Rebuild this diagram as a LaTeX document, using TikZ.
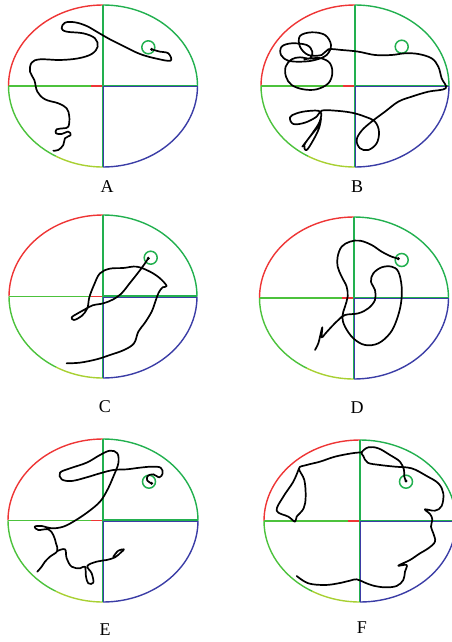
\documentclass[tikz,border=0pt]{standalone}
\usepackage{fontspec}
\setmainfont{Liberation Serif}
\definecolor{qred}{HTML}{EE3535}
\definecolor{qgreen}{HTML}{22B04F}
\definecolor{qlime}{HTML}{4CC23C}
\definecolor{qyellow}{HTML}{A8D032}
\definecolor{qblue}{HTML}{3B3DA6}
\tikzset{
  rim/.style={line width=1.4pt},
  track/.style={draw=black, line width=1.7pt, line join=round, line cap=round},
  target/.style={circle, draw=qgreen, line width=1.5pt, minimum size=13pt, inner sep=0pt},
  tag/.style={font=\fontsize{18}{18}\selectfont},
}
\begin{document}
\begin{tikzpicture}[x=1pt, y=-1pt]
  \useasboundingbox (0,0) rectangle (451,642);
  % six arenas, each cut into four coloured quarters
  \foreach \cx/\cy/\rx/\ry/\lx/\ly/\lab in {103/86/94.5/81/107/187/A, 355/86/94/81/357/187/B,
      103/296.5/94/81.5/105/407/C, 354/298/94.5/81/357/408/D,
      103/520.5/95/81.5/105/630/E, 360/521/96/81/362/628/F} {
    \draw[rim, qred] (\cx-\rx,\cy) arc[start angle=180, end angle=270, x radius=\rx, y radius=\ry];
    \draw[rim, qgreen] (\cx,\cy-\ry) arc[start angle=270, end angle=360, x radius=\rx, y radius=\ry];
    \draw[rim, qblue] (\cx+\rx,\cy) arc[start angle=0, end angle=90, x radius=\rx, y radius=\ry];
    \draw[rim, qyellow] (\cx,\cy+\ry) arc[start angle=90, end angle=120, x radius=\rx, y radius=\ry];
    \draw[rim, qlime] (\cx-\rx,\cy) arc[start angle=180, end angle=120, x radius=\rx, y radius=\ry];
    \draw[rim, qlime] (\cx-\rx,\cy) -- (\cx,\cy);
    \draw[rim, qred] (\cx-12,\cy) -- (\cx,\cy);
    \draw[rim, qblue] (\cx,\cy+0.7) -- (\cx+\rx,\cy+0.7);
    \draw[rim, qgreen] (\cx,\cy-0.7) -- (\cx+\rx,\cy-0.7);
    \draw[rim, qgreen] (\cx,\cy-\ry) -- (\cx,\cy);
    \draw[rim, qgreen] (\cx-0.7,\cy) -- (\cx-0.7,\cy+\ry);
    \draw[rim, qblue] (\cx+0.7,\cy) -- (\cx+0.7,\cy+\ry);
    \node[tag] (lab\lab) at (\lx,\ly) {\lab};
  }
  % goal rings
  \node[target] (tgtA) at (148.3,47.3) {};
  \node[target] (tgtB) at (401.7,46.7) {};
  \node[target] (tgtC) at (150.7,257.7) {};
  \node[target] (tgtD) at (401.7,260) {};
  \node[target] (tgtE) at (149,481.7) {};
  \node[target] (tgtF) at (406,481.7) {};
  % swim paths (traced at 3x, hence the scale)
  \begin{scope}[shift={(0pt,0pt)}, x=0.3333pt, y=-0.3333pt]
    \draw[track] plot[smooth, tension=0.6] coordinates {(455,148) (480,155) (505,160) (512,182) (470,176) (420,162) (370,138) (330,118) (295,98) (260,78) (225,67) (195,68) (185,85) (200,95) (250,100) (285,115) (293,140) (275,162) (235,175) (180,180) (120,178) (95,188) (90,215) (103,240) (112,275) (135,298) (175,310) (200,325) (208,350) (205,380) (190,385) (170,388) (168,400) (185,402) (205,395) (212,405) (195,415) (190,435) (175,450) (160,452)};
    \fill (455,148) circle[radius=5];
  \end{scope}
  \begin{scope}[shift={(225pt,0pt)}, x=0.3333pt, y=-0.3333pt]
    \draw[track] plot[smooth, tension=0.6] coordinates {(232,440) (255,410) (280,378) (288,355) (282,385) (265,420) (245,450) (238,435) (262,400) (284,365) (286,335) (250,333) (215,340) (195,352) (205,372) (240,368) (275,350) (290,332) (330,332) (380,338) (420,350) (450,365) (462,395) (455,430) (430,450) (405,445) (395,420) (410,392) (440,365) (480,335) (520,305) (560,290) (610,275) (662,265) (650,235) (640,200) (620,175) (580,162) (540,160) (500,165) (450,165) (400,155) (350,150) (310,148) (290,165) (250,165) (225,140) (225,108) (260,97) (300,105) (318,135) (305,165) (270,180) (230,185) (190,182) (168,165) (170,140) (200,130) (245,135) (262,155) (255,175) (225,172) (200,178) (182,200) (183,230) (200,255) (235,268) (275,268) (310,250) (322,220) (315,190) (290,175) (260,175) (238,178)};
  \end{scope}
  \begin{scope}[shift={(0pt,-210pt)}, x=0.3333pt, y=-0.3333pt]
    \draw[track] plot[smooth, tension=0.6] coordinates {(445,145) (435,160) (422,178) (405,200) (385,225) (365,250) (340,268) (310,280) (278,286) (255,298) (230,312) (215,322) (222,330) (245,318) (262,295) (268,262) (282,225) (300,190) (330,176) (370,174) (410,170) (450,185) (480,205) (500,228) (488,232) (476,248) (466,275) (455,305) (435,338) (415,365) (402,400) (372,420) (330,435) (290,448) (240,458) (200,460)};
    \fill (445,145) circle[radius=5];
  \end{scope}
  \begin{scope}[shift={(225pt,-210pt)}, x=0.3333pt, y=-0.3333pt]
    \draw[track] plot[smooth, tension=0.6] coordinates {(520,146) (500,140) (470,125) (440,105) (405,92) (375,95) (350,110) (338,140) (338,170) (350,200) (365,230) (368,260) (360,290) (352,320) (360,350) (385,385) (420,405) (460,400) (495,370) (515,330) (528,280) (530,230) (520,185) (500,170) (470,172) (445,190) (438,215) (450,240) (450,270) (430,295) (400,310) (360,315) (340,330) (318,352) (300,372) (290,382) (292,352) (285,380) (280,400) (270,420)};
    \fill (520,146) circle[radius=5];
  \end{scope}
  \begin{scope}[shift={(0pt,-420pt)}, x=0.3333pt, y=-0.3333pt]
    \draw[track] plot[smooth, tension=0.6] coordinates {(455,190) (442,182) (443,168) (460,163) (478,172) (488,160) (482,143) (455,140) (420,143) (380,148) (340,150) (300,160) (260,172) (215,183) (185,178) (180,158) (210,145) (260,128) (300,105) (330,92) (352,100) (355,130) (340,170) (322,210) (300,245) (265,275) (225,302) (190,320) (155,325) (125,318) (104,320) (115,330) (145,328) (160,345) (168,370) (172,393) (150,410) (135,425) (125,440) (112,455)};
    \draw[track] plot[smooth, tension=0.6] coordinates {(172,393) (195,388) (200,415) (215,440) (240,445) (255,440) (258,470) (265,490) (280,488) (275,460) (262,438) (290,425) (320,420) (345,412) (362,398) (372,388) (355,392) (340,410)};
    \fill (455,190) circle[radius=5];
  \end{scope}
  \begin{scope}[shift={(225pt,-420pt)}, x=0.3333pt, y=-0.3333pt]
    \draw[track] plot[smooth, tension=0.6] coordinates {(215,468) (250,490) (300,495) (340,490) (375,482) (395,478) (420,488) (445,497) (480,502) (515,498) (535,480) (540,455) (545,435) (520,437) (555,420) (585,400) (610,385) (630,365) (625,340) (618,320) (622,298) (615,282) (600,268) (630,272) (650,258) (655,220) (640,190) (605,168) (560,145) (510,140) (465,135) (428,128) (415,108) (410,97) (430,82) (460,85) (495,105) (525,125) (537,150) (538,170) (543,183)};
    \draw[track] plot[smooth, tension=0.6] coordinates {(410,97) (380,100) (330,110) (285,125) (245,135) (222,145) (238,180) (242,230) (236,265) (215,290) (210,305) (190,290) (155,272) (175,230) (205,185) (222,145)};
    \fill (543,183) circle[radius=5];
  \end{scope}
\end{tikzpicture}
\end{document}
